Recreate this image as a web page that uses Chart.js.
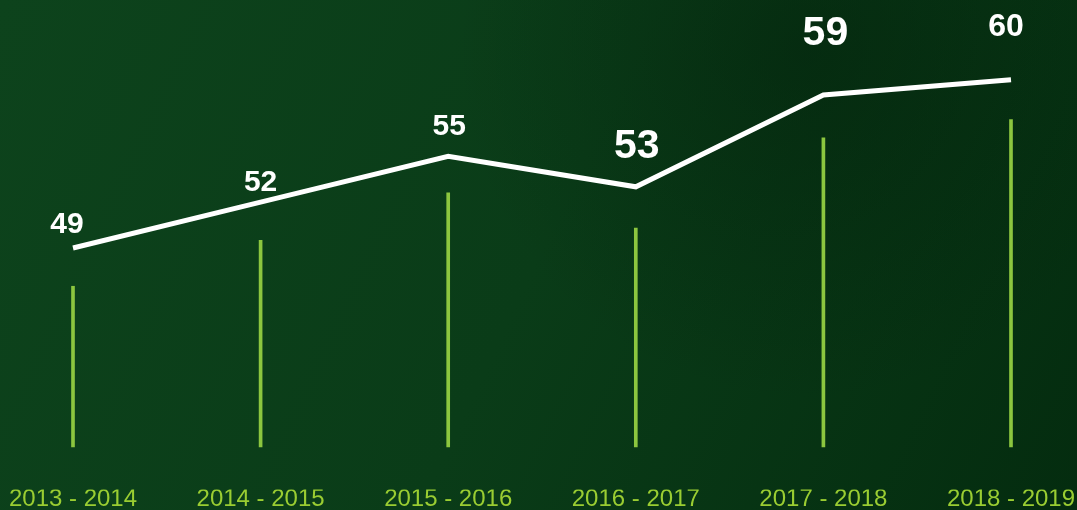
<!DOCTYPE html>
<html>
<head>
<meta charset="utf-8">
<script src="https://cdn.jsdelivr.net/npm/chart.js@4/dist/chart.umd.min.js"></script>
<style>
  html, body { margin: 0; padding: 0; background: #0a3a18; }
  #wrap { width: 1077px; height: 510px; position: relative; }
</style>
</head>
<body>
<div id="wrap"><canvas id="c" width="1077" height="510"></canvas></div>
<script>
// ---- data ----
const categories = ['2013 - 2014', '2014 - 2015', '2015 - 2016', '2016 - 2017', '2017 - 2018', '2018 - 2019'];
const values = [49, 52, 55, 53, 59, 60];
// tops of the thin vertical stems (same units as values)
const stemTops = [46.5, 49.5, 52.6, 50.3, 56.2, 57.4];
const stemBase = 36;

// ---- styles ----
const labelStyles = [
  { size: 30, dx: -6, dy: -26 },
  { size: 30, dx: 0, dy: -22 },
  { size: 30, dx: 1, dy: -32 },
  { size: 41, dx: 1, dy: -43 },
  { size: 41, dx: 2, dy: -65 },
  { size: 32, dx: -5, dy: -55 }
];

const bgPlugin = {
  id: 'bg',
  beforeDraw(chart) {
    const ctx = chart.ctx, w = chart.width, h = chart.height;
    ctx.save();
    const g = ctx.createLinearGradient(0, 0, w, h);
    g.addColorStop(0, '#0d431c');
    g.addColorStop(0.5, '#0a3c18');
    g.addColorStop(1, '#042c0f');
    ctx.fillStyle = g;
    ctx.fillRect(0, 0, w, h);
    const r = ctx.createRadialGradient(w * 0.75, h * 0.1, 10, w * 0.75, h * 0.1, 350);
    r.addColorStop(0, 'rgba(2,30,10,0.45)');
    r.addColorStop(1, 'rgba(2,30,10,0)');
    ctx.fillStyle = r;
    ctx.fillRect(0, 0, w, h);
    ctx.restore();
  }
};

const labelPlugin = {
  id: 'pointLabels',
  afterDatasetsDraw(chart) {
    const meta = chart.getDatasetMeta(1);
    const ctx = chart.ctx;
    ctx.save();
    ctx.fillStyle = '#ffffff';
    ctx.textAlign = 'center';
    ctx.textBaseline = 'alphabetic';
    meta.data.forEach((pt, i) => {
      const s = labelStyles[i];
      ctx.font = 'bold ' + s.size + 'px "Liberation Sans", Arial, sans-serif';
      ctx.fillText(String(values[i]), pt.x + s.dx, pt.y + s.dy + 0.358 * s.size);
    });
    ctx.restore();
  }
};

new Chart(document.getElementById('c'), {
  data: {
    labels: categories,
    datasets: [
      {
        type: 'bar',
        data: stemTops.map(t => [stemBase, t]),
        backgroundColor: '#8cc63f',
        borderWidth: 0,
        barThickness: 3,
        clip: false,
        order: 2
      },
      {
        type: 'line',
        data: values,
        borderColor: '#ffffff',
        borderWidth: 5,
        pointRadius: 0,
        tension: 0,
        fill: false,
        clip: false,
        order: 1
      }
    ]
  },
  options: {
    responsive: false,
    devicePixelRatio: 1,
    animation: false,
    layout: { padding: { left: 73, right: 66, top: 0, bottom: 0 } },
    plugins: { legend: { display: false }, tooltip: { enabled: false } },
    scales: {
      x: {
        offset: false,
        grid: { display: false, drawTicks: false },
        border: { display: false },
        ticks: {
          color: '#9acd32',
          padding: 0,
          maxRotation: 0,
          autoSkip: false,
          font: { family: '"Liberation Sans", Arial, sans-serif', size: 24, lineHeight: 0.85 }
        }
      },
      y: {
        display: false,
        min: 33.21,
        max: 65.21
      }
    }
  },
  plugins: [bgPlugin, labelPlugin]
});
</script>
</body>
</html>
